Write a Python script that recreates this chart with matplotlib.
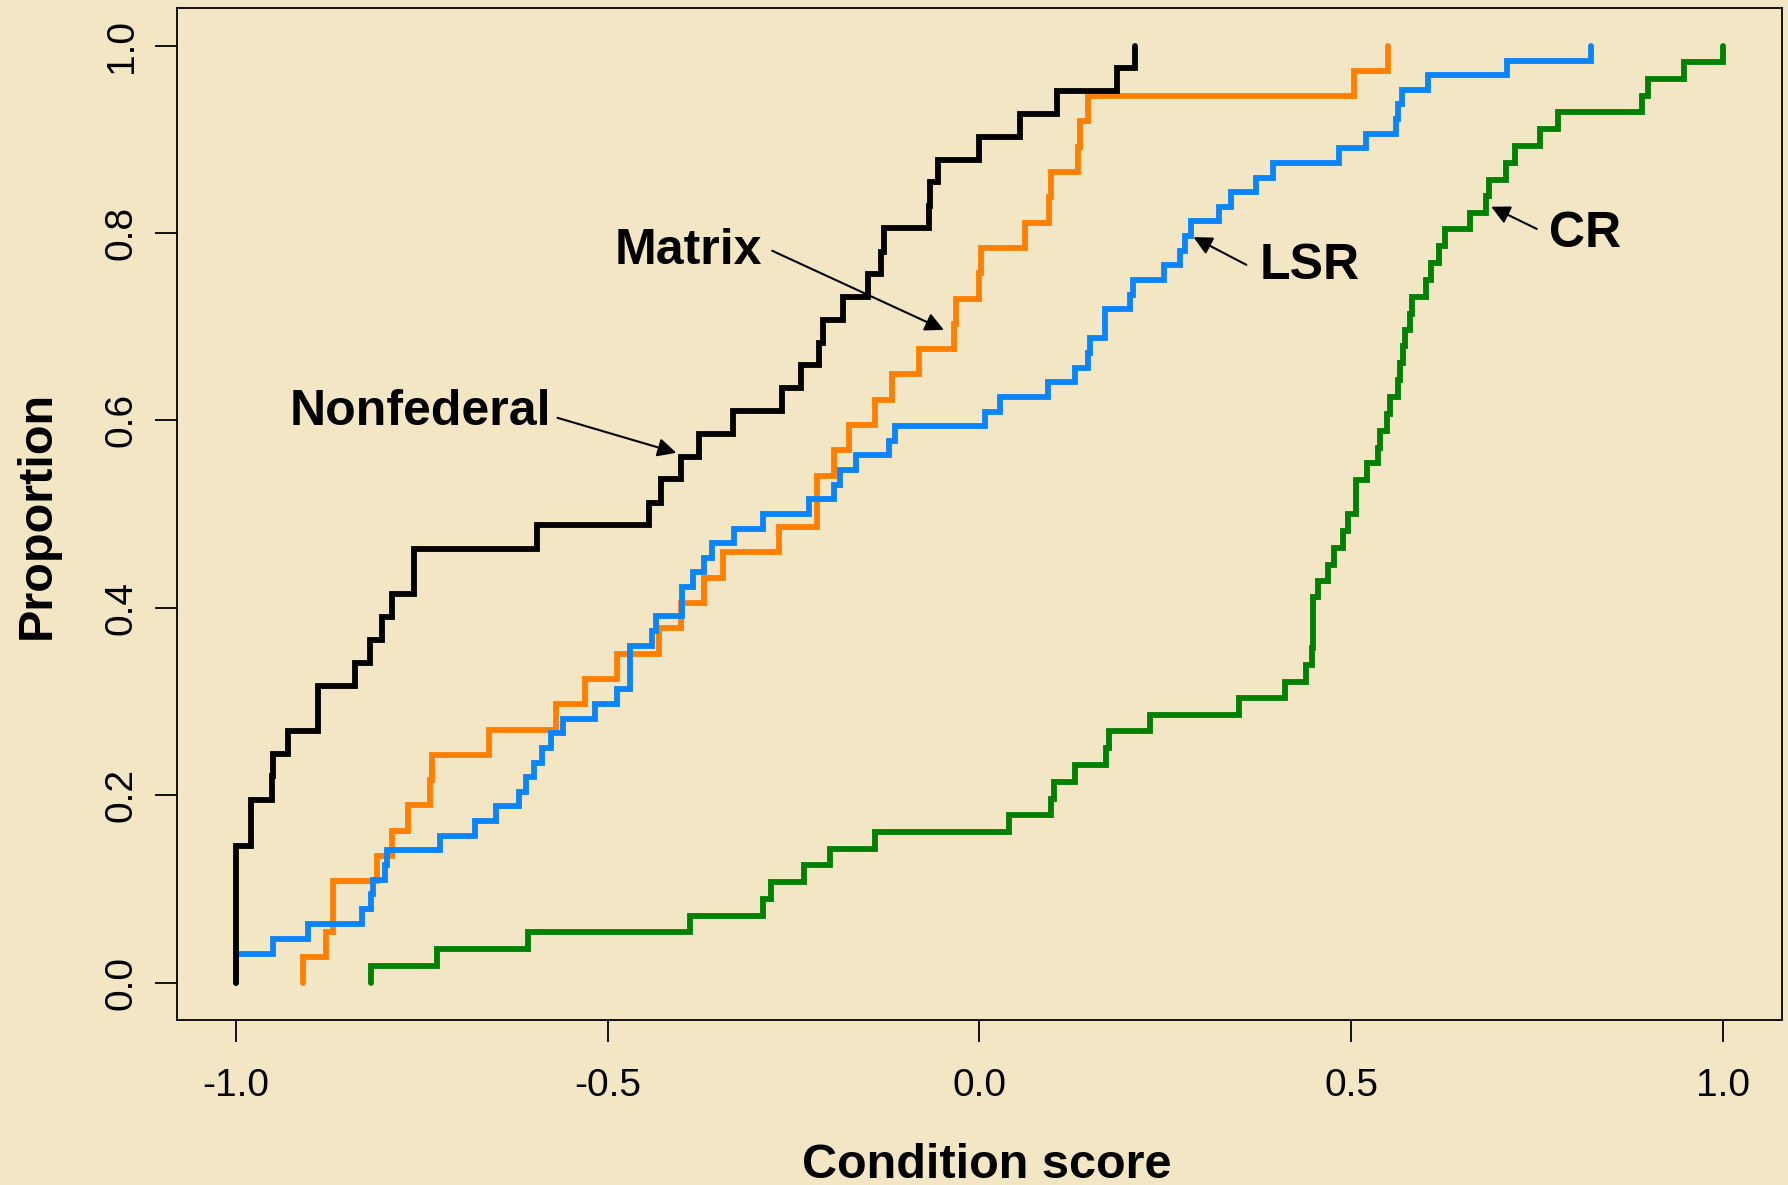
import numpy as np
import matplotlib
matplotlib.use("Agg")
import matplotlib.pyplot as plt

plt.rcParams["font.family"] = ["Liberation Sans", "DejaVu Sans"]

# step positions (condition score) and cumulative proportion after each step
nonfed_x = [-1.0, -0.980, -0.952, -0.950, -0.930, -0.890, -0.840, -0.820, -0.804, -0.790,
            -0.760, -0.595, -0.444, -0.428, -0.401, -0.377, -0.332, -0.266, -0.240, -0.216,
            -0.211, -0.183, -0.150, -0.132, -0.128, -0.068, -0.066, -0.055, 0.0, 0.055,
            0.104, 0.185, 0.210]
nonfed_y = [0.146, 0.195, 0.220, 0.244, 0.268, 0.317, 0.341, 0.366, 0.390, 0.415,
            0.463, 0.488, 0.512, 0.537, 0.561, 0.585, 0.610, 0.634, 0.659, 0.683,
            0.707, 0.732, 0.756, 0.780, 0.805, 0.829, 0.854, 0.878, 0.902, 0.927,
            0.951, 0.976, 1.0]

matrix_x = [-0.910, -0.879, -0.870, -0.810, -0.790, -0.769, -0.739, -0.736, -0.660, -0.570,
            -0.530, -0.488, -0.431, -0.401, -0.370, -0.345, -0.269, -0.218, -0.196, -0.175,
            -0.140, -0.117, -0.081, -0.034, -0.031, -0.001, 0.002, 0.062, 0.093, 0.096,
            0.133, 0.136, 0.146, 0.504, 0.550]
matrix_y = [0.027, 0.054, 0.108, 0.135, 0.162, 0.189, 0.216, 0.243, 0.270, 0.297,
            0.324, 0.351, 0.378, 0.405, 0.432, 0.459, 0.486, 0.541, 0.568, 0.595,
            0.622, 0.649, 0.676, 0.703, 0.730, 0.757, 0.784, 0.811, 0.838, 0.865,
            0.892, 0.919, 0.946, 0.973, 1.0]

lsr_x = [-1.0, -0.951, -0.903, -0.830, -0.819, -0.816, -0.800, -0.797, -0.726, -0.679,
         -0.650, -0.620, -0.610, -0.599, -0.589, -0.577, -0.560, -0.517, -0.487, -0.470,
         -0.440, -0.435, -0.400, -0.385, -0.370, -0.360, -0.330, -0.291, -0.229, -0.196,
         -0.187, -0.166, -0.122, -0.113, 0.008, 0.028, 0.092, 0.128, 0.146, 0.149,
         0.169, 0.202, 0.207, 0.249, 0.270, 0.277, 0.285, 0.323, 0.339, 0.372,
         0.395, 0.484, 0.520, 0.560, 0.563, 0.568, 0.604, 0.710, 0.823]
lsr_y = [0.031, 0.047, 0.063, 0.078, 0.094, 0.109, 0.125, 0.141, 0.156, 0.172,
         0.188, 0.203, 0.219, 0.234, 0.250, 0.266, 0.281, 0.297, 0.313, 0.359,
         0.375, 0.391, 0.422, 0.438, 0.453, 0.469, 0.484, 0.500, 0.516, 0.531,
         0.547, 0.563, 0.578, 0.594, 0.609, 0.625, 0.641, 0.656, 0.672, 0.688,
         0.719, 0.734, 0.750, 0.766, 0.781, 0.797, 0.813, 0.828, 0.844, 0.859,
         0.875, 0.891, 0.906, 0.922, 0.938, 0.953, 0.969, 0.984, 1.0]

cr_x = [-0.819, -0.730, -0.607, -0.390, -0.291, -0.281, -0.236, -0.201, -0.140, 0.040,
        0.097, 0.100, 0.128, 0.170, 0.175, 0.230, 0.349, 0.411, 0.440, 0.447,
        0.449, 0.456, 0.469, 0.477, 0.489, 0.496, 0.507, 0.521, 0.536, 0.539,
        0.549, 0.552, 0.563, 0.566, 0.570, 0.572, 0.580, 0.582, 0.601, 0.608,
        0.619, 0.626, 0.660, 0.682, 0.686, 0.709, 0.720, 0.754, 0.778, 0.892,
        0.899, 0.948, 1.0]
cr_y = [0.018, 0.036, 0.054, 0.071, 0.089, 0.107, 0.125, 0.143, 0.161, 0.179,
        0.196, 0.214, 0.232, 0.250, 0.268, 0.286, 0.304, 0.321, 0.339, 0.357,
        0.411, 0.429, 0.446, 0.464, 0.482, 0.500, 0.536, 0.554, 0.571, 0.589,
        0.607, 0.625, 0.643, 0.661, 0.679, 0.696, 0.714, 0.732, 0.750, 0.768,
        0.786, 0.804, 0.821, 0.839, 0.857, 0.875, 0.893, 0.911, 0.929, 0.946,
        0.964, 0.982, 1.0]

bg = "#F3E6C5"
fig = plt.figure(figsize=(17.88, 11.85), dpi=100, facecolor=bg)
ax = fig.add_axes([0.0988, 0.1392, 0.8979, 0.854])
ax.set_facecolor(bg)

# draw order: black sits on top of blue at x = -1
series = [(matrix_x, matrix_y, "#FF8000"),
          (lsr_x, lsr_y, "#0A84FF"),
          (nonfed_x, nonfed_y, "black"),
          (cr_x, cr_y, "#008000")]
for xs, ys, col in series:
    # start each curve at zero on its first value
    ax.step(np.r_[xs[0], xs], np.r_[0, ys], where="post", color=col, lw=4.2,
            solid_capstyle="round", solid_joinstyle="miter")

ax.set_xlim(-1.08, 1.08)
ax.set_ylim(-0.04, 1.04)
ax.set_xticks([-1.0, -0.5, 0.0, 0.5, 1.0])
ax.set_yticks([0.0, 0.2, 0.4, 0.6, 0.8, 1.0])
ax.set_xticklabels(["-1.0", "-0.5", "0.0", "0.5", "1.0"])
ax.set_yticklabels(["0.0", "0.2", "0.4", "0.6", "0.8", "1.0"])
ax.tick_params(axis="both", direction="out", length=15.5, width=1.3, labelsize=28)
ax.tick_params(axis="x", pad=19)
ax.tick_params(axis="y", pad=11, labelrotation=90)
for lbl in ax.get_yticklabels():
    lbl.set_va("center")
for sp in ax.spines.values():
    sp.set_linewidth(1.3)

fig.text(0.552, 0.006, "Condition score", ha="center", va="baseline",
         fontsize=35, fontweight="bold")
fig.text(0.0207, 0.5654, "Proportion", ha="center", va="center", rotation=90,
         fontsize=35, fontweight="bold")

arrow = dict(arrowstyle="-|>", mutation_scale=28, lw=1.5, color="black",
             shrinkA=0, shrinkB=0)
labels = [("Nonfederal", -0.5756, 0.609, (-0.5676, 0.6027), (-0.4078, 0.5654), "right"),
          ("Matrix", -0.2922, 0.781, (-0.2788, 0.781), (-0.0478, 0.6966), "right"),
          ("LSR", 0.3775, 0.765, (0.3591, 0.766), (0.288, 0.7955), "left"),
          ("CR", 0.767, 0.799, (0.7499, 0.8043), (0.6886, 0.828), "left")]
for txt, tx, ty, start, tip, ha in labels:
    ax.text(tx, ty, txt, ha=ha, va="center", fontsize=36, fontweight="bold")
    ax.annotate("", xy=tip, xytext=start, arrowprops=arrow)

fig.savefig("out.png", dpi=100, facecolor=bg)
